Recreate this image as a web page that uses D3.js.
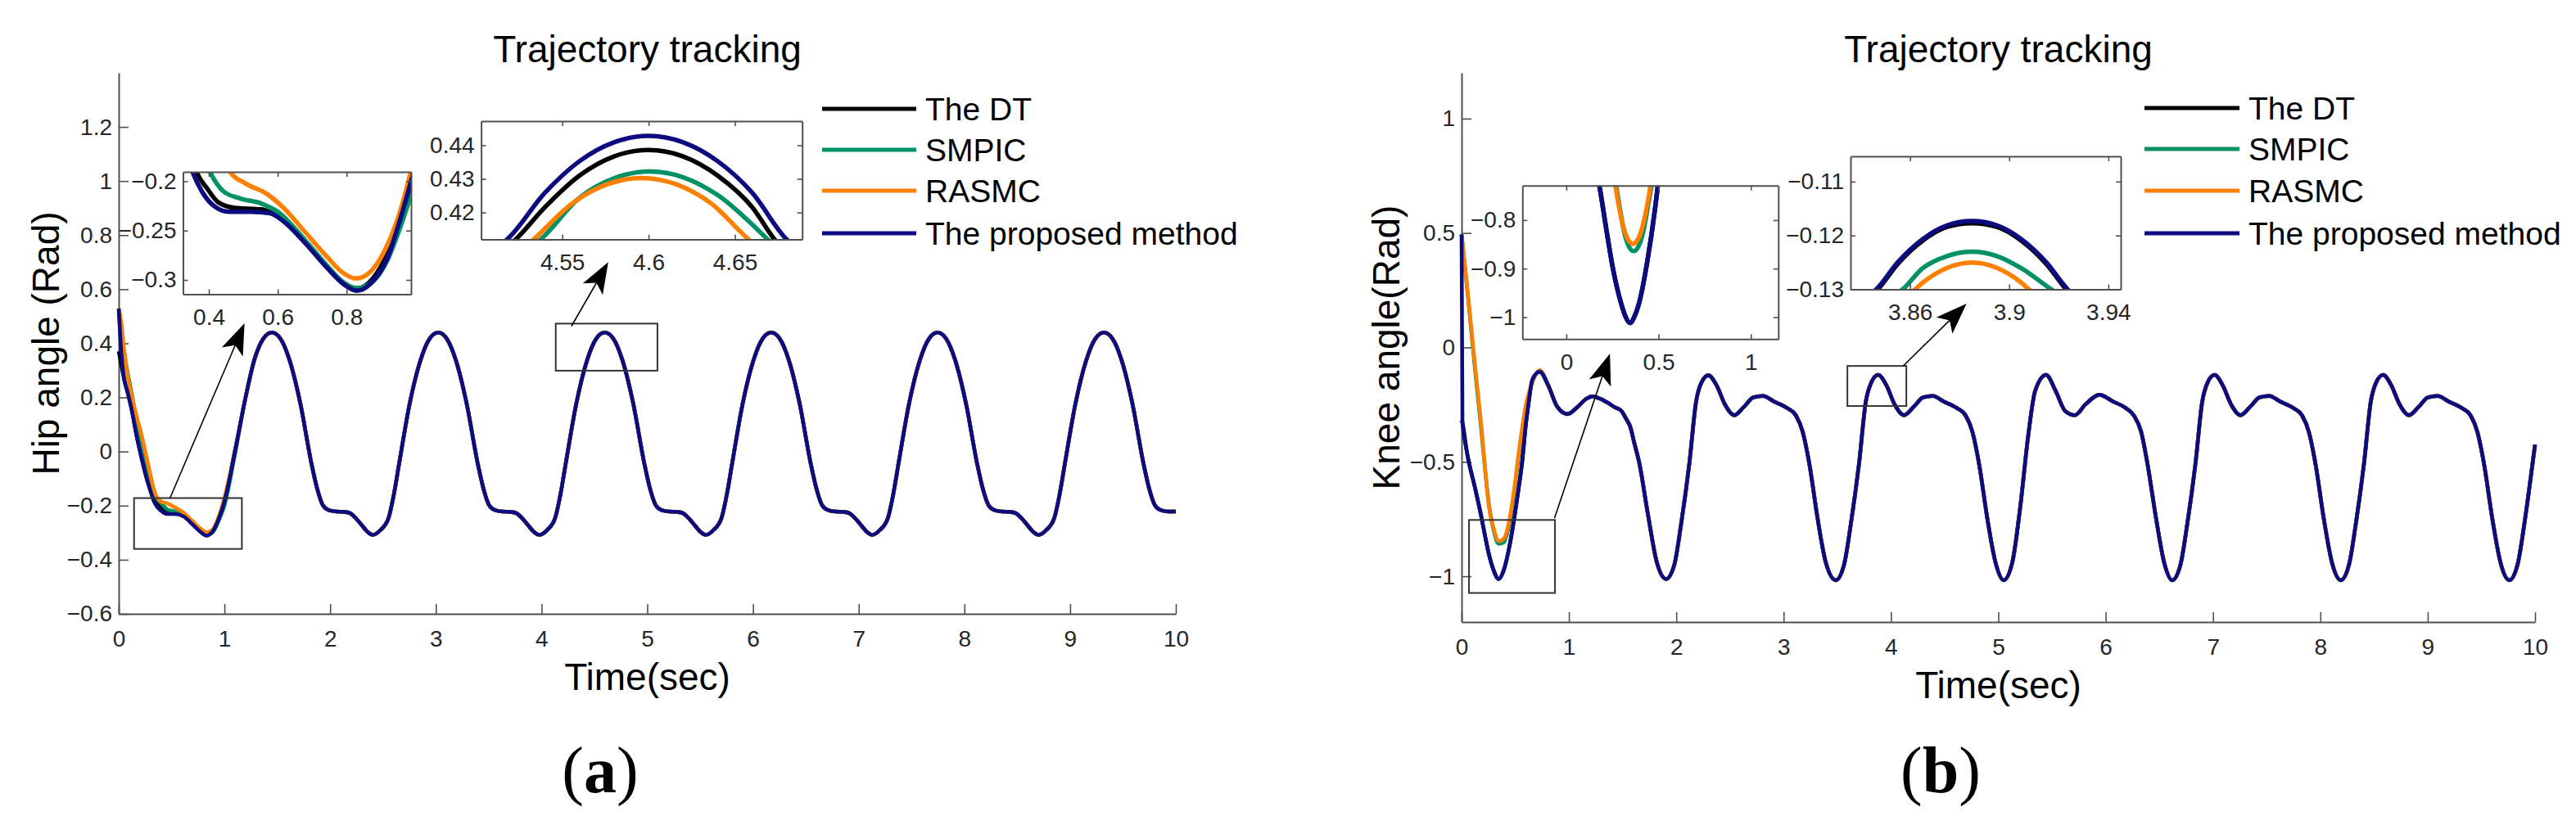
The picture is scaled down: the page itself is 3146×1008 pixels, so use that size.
<!DOCTYPE html>
<html>
<head>
<meta charset="utf-8">
<script src="https://cdn.jsdelivr.net/npm/d3@7"></script>
<style>
  body { margin: 0; background: #fff; }
</style>
</head>
<body>
<div id="chart"></div>
<script>
// ---- series ----
const seriesNames = ["The DT", "SMPIC", "RASMC", "The proposed method"];
const seriesColors = ["#000000", "#009166", "#ff8000", "#0c0c80"];

// ---- ticks ----
const timeTicks = [0, 1, 2, 3, 4, 5, 6, 7, 8, 9, 10];
const hipYTicks = [-0.6, -0.4, -0.2, 0, 0.2, 0.4, 0.6, 0.8, 1, 1.2];
const kneeYTicks = [-1, -0.5, 0, 0.5, 1];
const hipZoomAXTicks = [0.4, 0.6, 0.8];
const hipZoomAYTicks = [-0.3, -0.25, -0.2];
const hipZoomBXTicks = [4.55, 4.6, 4.65];
const hipZoomBYTicks = [0.42, 0.43, 0.44];
const kneeZoomAXTicks = [0, 0.5, 1];
const kneeZoomAYTicks = [-1, -0.9, -0.8];
const kneeZoomBXTicks = [3.86, 3.9, 3.94];
const kneeZoomBYTicks = [-0.13, -0.12, -0.11];

// ---- hip angle: start transient per series, [t, rad] ----
const hipStartDT = [[0,0.37],[0.02,0.33],[0.05,0.27],[0.08,0.225],[0.12,0.16],[0.17,0.057],[0.22,-0.03],[0.28,-0.12],[0.34,-0.175],[0.40,-0.209],[0.46,-0.226],[0.53,-0.228],[0.61,-0.237],[0.70,-0.268],[0.77,-0.294],[0.83,-0.309],[0.89,-0.292],[0.95,-0.24],[1.0,-0.178],[1.1,0.005]];
const hipStartSMPIC = [[0,0.51],[0.02,0.45],[0.05,0.37],[0.08,0.30],[0.12,0.22],[0.17,0.11],[0.22,0.01],[0.28,-0.09],[0.34,-0.16],[0.40,-0.19],[0.46,-0.214],[0.53,-0.221],[0.61,-0.233],[0.70,-0.266],[0.77,-0.295],[0.83,-0.308],[0.89,-0.298],[0.95,-0.252],[1.0,-0.2],[1.1,-0.01]];
const hipStartRASMC = [[0,0.53],[0.02,0.49],[0.05,0.38],[0.08,0.29],[0.12,0.21],[0.17,0.13],[0.22,0.055],[0.28,-0.05],[0.34,-0.15],[0.40,-0.185],[0.46,-0.192],[0.53,-0.206],[0.61,-0.225],[0.70,-0.258],[0.77,-0.284],[0.83,-0.298],[0.89,-0.287],[0.95,-0.236],[1.0,-0.17],[1.1,0.0]];
const hipStartProp = [[0,0.529],[0.02,0.39],[0.05,0.27],[0.08,0.225],[0.12,0.16],[0.17,0.057],[0.22,-0.03],[0.28,-0.12],[0.34,-0.19],[0.40,-0.219],[0.46,-0.231],[0.53,-0.231],[0.61,-0.239],[0.70,-0.27],[0.77,-0.296],[0.83,-0.311],[0.89,-0.295],[0.95,-0.245],[1.0,-0.185],[1.1,0.0]];
// after t = 1.2 all four curves lie on top of each other at this scale
const hipSteady = [[1.2,0.2],[1.282,0.338],[1.369,0.418],[1.449,0.44],[1.529,0.418],[1.616,0.338],[1.719,0.176],[1.824,-0.046],[1.879,-0.14],[1.929,-0.197],[1.989,-0.217],[2.059,-0.222],[2.129,-0.223],[2.184,-0.227],[2.239,-0.245],[2.289,-0.267],[2.349,-0.295],[2.402,-0.308],
  [2.477,-0.29],[2.552,-0.246],[2.602,-0.16],[2.652,-0.046],[2.752,0.176],[2.855,0.338],[2.942,0.418],[3.022,0.44],[3.102,0.418],[3.189,0.338],[3.292,0.176],[3.397,-0.046],[3.452,-0.14],[3.502,-0.197],[3.562,-0.217],[3.632,-0.222],[3.702,-0.223],[3.757,-0.227],[3.812,-0.245],[3.862,-0.267],[3.922,-0.295],[3.977,-0.308],
  [4.053,-0.29],[4.128,-0.246],[4.178,-0.16],[4.228,-0.046],[4.328,0.176],[4.431,0.338],[4.518,0.418],[4.598,0.44],[4.678,0.418],[4.765,0.338],[4.868,0.176],[4.973,-0.046],[5.028,-0.14],[5.078,-0.197],[5.138,-0.217],[5.208,-0.222],[5.278,-0.223],[5.333,-0.227],[5.388,-0.245],[5.438,-0.267],[5.498,-0.295],[5.553,-0.308],
  [5.627,-0.29],[5.702,-0.246],[5.752,-0.16],[5.802,-0.046],[5.902,0.176],[6.005,0.338],[6.092,0.418],[6.172,0.44],[6.252,0.418],[6.339,0.338],[6.442,0.176],[6.547,-0.046],[6.602,-0.14],[6.652,-0.197],[6.712,-0.217],[6.782,-0.222],[6.852,-0.223],[6.907,-0.227],[6.962,-0.245],[7.012,-0.267],[7.072,-0.295],[7.127,-0.308],
  [7.201,-0.29],[7.276,-0.246],[7.326,-0.16],[7.376,-0.046],[7.476,0.176],[7.579,0.338],[7.666,0.418],[7.746,0.44],[7.826,0.418],[7.913,0.338],[8.016,0.176],[8.121,-0.046],[8.176,-0.14],[8.226,-0.197],[8.286,-0.217],[8.356,-0.222],[8.426,-0.223],[8.481,-0.227],[8.536,-0.245],[8.586,-0.267],[8.646,-0.295],[8.701,-0.308],
  [8.775,-0.29],[8.85,-0.246],[8.9,-0.16],[8.95,-0.046],[9.05,0.176],[9.153,0.338],[9.24,0.418],[9.32,0.44],[9.4,0.418],[9.487,0.338],[9.59,0.176],[9.695,-0.046],[9.75,-0.14],[9.8,-0.197],[9.86,-0.217],[9.93,-0.222],[10,-0.222]];

// ---- knee angle ----
const kneeStartDT = [[0,-0.32],[0.008,-0.33],[0.047,-0.45],[0.128,-0.62],[0.179,-0.729],[0.218,-0.822],[0.25,-0.895],[0.298,-0.973],[0.345,-1.012],[0.393,-0.973],[0.44,-0.883],[0.496,-0.729],[0.53,-0.62],[0.562,-0.51],[0.6,-0.33],[0.626,-0.236],[0.66,-0.14],[0.728,-0.106]];
const kneeStartSMPIC = [[0,0.494],[0.008,0.455],[0.047,0.28],[0.128,-0.11],[0.179,-0.34],[0.218,-0.53],[0.25,-0.67],[0.298,-0.798],[0.345,-0.858],[0.393,-0.852],[0.44,-0.781],[0.496,-0.61],[0.53,-0.48],[0.562,-0.37],[0.6,-0.255],[0.626,-0.205],[0.66,-0.152],[0.728,-0.1]];
const kneeStartRASMC = [[0,0.494],[0.008,0.46],[0.047,0.29],[0.128,-0.093],[0.179,-0.32],[0.218,-0.52],[0.25,-0.68],[0.298,-0.79],[0.345,-0.846],[0.393,-0.836],[0.44,-0.766],[0.496,-0.6],[0.53,-0.47],[0.562,-0.36],[0.6,-0.25],[0.626,-0.2],[0.66,-0.15],[0.728,-0.1]];
const kneeStartProp = [[0,0.494],[0.008,-0.32],[0.047,-0.45],[0.128,-0.62],[0.179,-0.729],[0.218,-0.822],[0.25,-0.895],[0.298,-0.973],[0.345,-1.012],[0.393,-0.973],[0.44,-0.883],[0.496,-0.729],[0.53,-0.62],[0.562,-0.51],[0.6,-0.33],[0.626,-0.236],[0.66,-0.14],[0.728,-0.106]];
const kneeSteady = [[0.81,-0.169],[0.891,-0.259],[0.987,-0.291],[1.082,-0.259],[1.16,-0.225],[1.218,-0.214],[1.3,-0.226],[1.354,-0.24],[1.43,-0.262],[1.49,-0.278],[1.53,-0.31],[1.572,-0.348],[1.61,-0.42],[1.654,-0.502],[1.736,-0.73],[1.817,-0.936],[1.905,-1.012],
  [1.981,-0.951],[2.045,-0.772],[2.121,-0.51],[2.185,-0.236],[2.235,-0.153],[2.299,-0.122],[2.375,-0.165],[2.452,-0.248],[2.541,-0.296],[2.63,-0.26],[2.719,-0.218],[2.808,-0.212],[2.909,-0.236],[3.037,-0.266],[3.113,-0.296],[3.177,-0.368],[3.24,-0.51],[3.317,-0.749],[3.393,-0.94],[3.486,-1.017],
  [3.562,-0.951],[3.626,-0.772],[3.702,-0.51],[3.766,-0.236],[3.817,-0.153],[3.88,-0.12],[3.957,-0.165],[4.033,-0.248],[4.122,-0.296],[4.211,-0.26],[4.3,-0.218],[4.389,-0.212],[4.49,-0.236],[4.618,-0.266],[4.694,-0.296],[4.758,-0.368],[4.821,-0.51],[4.898,-0.749],[4.974,-0.94],[5.05,-1.017],
  [5.13,-0.94],[5.203,-0.702],[5.28,-0.38],[5.343,-0.19],[5.445,-0.12],[5.534,-0.19],[5.623,-0.278],[5.712,-0.296],[5.814,-0.248],[5.941,-0.207],[6.068,-0.236],[6.19,-0.266],[6.26,-0.296],[6.33,-0.368],[6.39,-0.51],[6.47,-0.749],[6.545,-0.94],[6.62,-1.017],
  [6.696,-0.951],[6.76,-0.772],[6.836,-0.51],[6.9,-0.236],[6.95,-0.153],[7.014,-0.12],[7.09,-0.165],[7.167,-0.248],[7.256,-0.296],[7.345,-0.26],[7.434,-0.218],[7.523,-0.212],[7.624,-0.236],[7.752,-0.266],[7.828,-0.296],[7.892,-0.368],[7.955,-0.51],[8.032,-0.749],[8.108,-0.94],[8.19,-1.017],
  [8.266,-0.951],[8.33,-0.772],[8.406,-0.51],[8.47,-0.236],[8.52,-0.153],[8.584,-0.12],[8.66,-0.165],[8.737,-0.248],[8.826,-0.296],[8.915,-0.26],[9.004,-0.218],[9.093,-0.212],[9.194,-0.236],[9.322,-0.266],[9.398,-0.296],[9.462,-0.368],[9.525,-0.51],[9.602,-0.749],[9.678,-0.94],[9.76,-1.017],
  [9.836,-0.951],[9.9,-0.772],[9.976,-0.51],[10,-0.425]];

// ---- zoomed windows ----
const hipZoomADT = [[0.35,-0.175],[0.365,-0.191],[0.396,-0.2077],[0.428,-0.2215],[0.475,-0.227],[0.554,-0.2285],[0.596,-0.235],[0.68,-0.261],[0.743,-0.286],[0.79,-0.3025],[0.83,-0.309],[0.875,-0.299],[0.917,-0.274],[0.956,-0.232],[0.995,-0.185]];
const hipZoomASMPIC = [[0.39,-0.18],[0.404,-0.191],[0.443,-0.2104],[0.49,-0.2173],[0.554,-0.2228],[0.601,-0.2311],[0.68,-0.26],[0.743,-0.2855],[0.79,-0.3027],[0.83,-0.3083],[0.877,-0.3013],[0.917,-0.281],[0.956,-0.2463],[0.995,-0.205]];
const hipZoomARASMC = [[0.45,-0.18],[0.463,-0.191],[0.5065,-0.2022],[0.57,-0.2132],[0.617,-0.227],[0.68,-0.2517],[0.743,-0.2765],[0.79,-0.293],[0.827,-0.2986],[0.869,-0.2917],[0.917,-0.2655],[0.956,-0.2297],[0.995,-0.178]];
const hipZoomAProp = [[0.34,-0.178],[0.353,-0.191],[0.38,-0.2104],[0.412,-0.2242],[0.459,-0.231],[0.522,-0.231],[0.5775,-0.2325],[0.617,-0.2407],[0.68,-0.2628],[0.743,-0.2876],[0.79,-0.304],[0.83,-0.311],[0.869,-0.304],[0.917,-0.279],[0.956,-0.238],[0.995,-0.19]];

const hipZoomBDT = [[4.515,0.4085],[4.523,0.412],[4.54,0.4216],[4.56,0.431],[4.58,0.4367],[4.6,0.4386],[4.62,0.4367],[4.64,0.431],[4.66,0.4216],[4.673,0.412],[4.68,0.408]];
const hipZoomBSMPIC = [[4.53,0.409],[4.5375,0.412],[4.56,0.4244],[4.58,0.4302],[4.601,0.4322],[4.62,0.4305],[4.64,0.4252],[4.669,0.412],[4.675,0.409]];
const hipZoomBRASMC = [[4.527,0.409],[4.5335,0.412],[4.556,0.4228],[4.576,0.4284],[4.596,0.4303],[4.616,0.4284],[4.636,0.4228],[4.658,0.412],[4.665,0.409]];
const hipZoomBProp = [[4.51,0.409],[4.518,0.412],[4.54,0.4259],[4.56,0.4353],[4.58,0.4409],[4.6,0.4428],[4.62,0.4409],[4.64,0.4353],[4.66,0.4259],[4.68,0.412],[4.69,0.408]];

const kneeZoomADT = [[0.16,-0.69],[0.179,-0.729],[0.218,-0.822],[0.25,-0.8946],[0.298,-0.973],[0.32,-0.998],[0.345,-1.012],[0.37,-0.998],[0.393,-0.973],[0.44,-0.8826],[0.496,-0.729],[0.51,-0.68]];
const kneeZoomASMPIC = [[0.262,-0.71],[0.27,-0.729],[0.29,-0.776],[0.315,-0.827],[0.34,-0.855],[0.365,-0.864],[0.39,-0.855],[0.415,-0.827],[0.44,-0.776],[0.461,-0.729],[0.468,-0.71]];
const kneeZoomARASMC = [[0.258,-0.71],[0.266,-0.729],[0.286,-0.774],[0.311,-0.816],[0.336,-0.841],[0.361,-0.849],[0.386,-0.841],[0.411,-0.816],[0.436,-0.774],[0.456,-0.729],[0.463,-0.71]];
const kneeZoomAProp = [[0.16,-0.69],[0.179,-0.729],[0.218,-0.822],[0.25,-0.8946],[0.298,-0.973],[0.32,-0.998],[0.345,-1.012],[0.37,-0.998],[0.393,-0.973],[0.44,-0.8826],[0.496,-0.729],[0.51,-0.68]];

const kneeZoomBDT = [[3.84,-0.1325],[3.847,-0.13],[3.855,-0.1253],[3.865,-0.121],[3.875,-0.1184],[3.885,-0.1177],[3.895,-0.1184],[3.905,-0.121],[3.915,-0.1253],[3.923,-0.13],[3.93,-0.1335]];
const kneeZoomBSMPIC = [[3.852,-0.1315],[3.857,-0.13],[3.865,-0.1261],[3.875,-0.1238],[3.885,-0.123],[3.895,-0.1238],[3.905,-0.1261],[3.917,-0.13],[3.922,-0.1315]];
const kneeZoomBRASMC = [[3.858,-0.1315],[3.862,-0.13],[3.865,-0.1288],[3.875,-0.126],[3.885,-0.125],[3.895,-0.126],[3.905,-0.1288],[3.908,-0.13],[3.912,-0.1315]];
const kneeZoomBProp = [[3.84,-0.1322],[3.847,-0.1297],[3.855,-0.125],[3.865,-0.1207],[3.875,-0.1181],[3.885,-0.1173],[3.895,-0.1181],[3.905,-0.1207],[3.915,-0.125],[3.923,-0.1297],[3.93,-0.1332]];

// ---- drawing ----
const W = 3146, H = 1008;
const fontSans = '"Liberation Sans", Arial, Helvetica, sans-serif';
const axisColor = "#4f4f4f";
const fmt = v => String(v).replace("-", "\u2212");

const svg = d3.select("#chart").append("svg")
  .attr("width", W)
  .attr("height", H)
  .style("background", "#fff");

const defs = svg.append("defs");

function styleAxis(g){
  g.attr("font-family", fontSans).attr("font-size", 28);
  g.select(".domain").attr("stroke", axisColor).attr("stroke-width", 2);
  g.selectAll(".tick line").attr("stroke", axisColor).attr("stroke-width", 1.6);
  g.selectAll(".tick text").attr("fill", "#262626");
}

function drawArrow(g, x1, y1, x2, y2){
  const len = Math.hypot(x2 - x1, y2 - y1);
  const ux = (x2 - x1) / len, uy = (y2 - y1) / len;
  const nx = -uy, ny = ux;
  const hl = 38, hw = 14, notch = 29;
  const bx = x2 - ux * hl, by = y2 - uy * hl;
  g.append("line")
    .attr("x1", x1).attr("y1", y1)
    .attr("x2", x2 - ux * notch).attr("y2", y2 - uy * notch)
    .attr("stroke", "#000").attr("stroke-width", 1.6);
  g.append("path")
    .attr("d", `M${x2},${y2}L${bx + nx*hw},${by + ny*hw}L${x2 - ux*notch},${y2 - uy*notch}L${bx - nx*hw},${by - ny*hw}Z`)
    .attr("fill", "#000");
}

let clipCount = 0;
function drawInset(g, box, xDom, yDom, xTicks, yTicks, series){
  const x = d3.scaleLinear().domain(xDom).range([box.x0, box.x1]);
  const y = d3.scaleLinear().domain(yDom).range([box.y1, box.y0]);
  const id = "clip" + (clipCount++);
  defs.append("clipPath").attr("id", id)
    .append("rect")
    .attr("x", box.x0).attr("y", box.y0)
    .attr("width", box.x1 - box.x0).attr("height", box.y1 - box.y0);

  g.append("rect")
    .attr("x", box.x0).attr("y", box.y0)
    .attr("width", box.x1 - box.x0).attr("height", box.y1 - box.y0)
    .attr("fill", "#fff");

  const line = d3.line().x(d => x(d[0])).y(d => y(d[1])).curve(d3.curveMonotoneX);
  const lines = g.append("g").attr("clip-path", `url(#${id})`);
  series.forEach((s, i) => {
    lines.append("path")
      .attr("d", line(s))
      .attr("fill", "none")
      .attr("stroke", seriesColors[i])
      .attr("stroke-width", 5.5)
      .attr("stroke-linejoin", "round");
  });

  g.append("g").attr("transform", `translate(0,${box.y1})`)
    .call(d3.axisBottom(x).tickValues(xTicks).tickSize(-6).tickSizeOuter(0).tickPadding(18).tickFormat(fmt))
    .call(styleAxis);
  g.append("g").attr("transform", `translate(0,${box.y0})`)
    .call(d3.axisTop(x).tickValues(xTicks).tickSize(-6).tickSizeOuter(0).tickFormat(""))
    .call(styleAxis);
  g.append("g").attr("transform", `translate(${box.x0},0)`)
    .call(d3.axisLeft(y).tickValues(yTicks).tickSize(-6).tickSizeOuter(0).tickPadding(8).tickFormat(fmt))
    .call(styleAxis);
  g.append("g").attr("transform", `translate(${box.x1},0)`)
    .call(d3.axisRight(y).tickValues(yTicks).tickSize(-6).tickSizeOuter(0).tickFormat(""))
    .call(styleAxis);
}

function drawPanel(p){
  const g = svg.append("g");
  const x = d3.scaleLinear().domain([0, 10]).range([p.left, p.right]);
  const y = d3.scaleLinear().domain(p.yDomain).range([p.bottom, p.top]);

  g.append("g").attr("transform", `translate(0,${p.bottom})`)
    .call(d3.axisBottom(x).tickValues(timeTicks).tickSize(-12).tickSizeOuter(0).tickPadding(20).tickFormat(fmt))
    .call(styleAxis);
  g.append("g").attr("transform", `translate(${p.left},0)`)
    .call(d3.axisLeft(y).tickValues(p.yTicks).tickSize(-12).tickSizeOuter(0).tickPadding(8).tickFormat(fmt))
    .call(styleAxis);

  const line = d3.line().x(d => x(d[0])).y(d => y(d[1])).curve(d3.curveMonotoneX);
  p.series.forEach((s, i) => {
    g.append("path")
      .attr("d", line(s))
      .attr("fill", "none")
      .attr("stroke", seriesColors[i])
      .attr("stroke-width", 4.6)
      .attr("stroke-linejoin", "round");
  });

  // zoom rectangles on the main curve
  p.rects.forEach(r => {
    g.append("rect")
      .attr("x", x(r[0])).attr("y", y(r[3]))
      .attr("width", x(r[1]) - x(r[0])).attr("height", y(r[2]) - y(r[3]))
      .attr("fill", "none").attr("stroke", "#333").attr("stroke-width", 2);
  });
  p.arrows.forEach(a => drawArrow(g, x(a[0]), y(a[1]), x(a[2]), y(a[3])));

  p.insets.forEach(ins => drawInset(g, ins.box, ins.xDom, ins.yDom, ins.xTicks, ins.yTicks, ins.series));

  // legend
  seriesNames.forEach((name, i) => {
    const ly = p.legend.y[i];
    g.append("line")
      .attr("x1", p.legend.x0).attr("x2", p.legend.x1)
      .attr("y1", ly).attr("y2", ly)
      .attr("stroke", seriesColors[i]).attr("stroke-width", 5);
    g.append("text")
      .attr("x", p.legend.tx).attr("y", ly).attr("dy", "0.36em")
      .attr("font-family", fontSans).attr("font-size", 39)
      .text(name);
  });

  const cx = (p.left + p.right) / 2;
  g.append("text")
    .attr("x", cx).attr("y", 76)
    .attr("text-anchor", "middle")
    .attr("font-family", fontSans).attr("font-size", 46)
    .text("Trajectory tracking");
  g.append("text")
    .attr("x", cx).attr("y", p.bottom + 93)
    .attr("text-anchor", "middle")
    .attr("font-family", fontSans).attr("font-size", 46)
    .text("Time(sec)");
  g.append("text")
    .attr("transform", `translate(${p.ylabelX},${(p.top + p.bottom) / 2})rotate(-90)`)
    .attr("text-anchor", "middle")
    .attr("font-family", fontSans).attr("font-size", 46)
    .text(p.ylabel);

  const lab = g.append("text")
    .attr("x", p.tagX).attr("y", 968)
    .attr("text-anchor", "middle")
    .attr("font-family", '"Liberation Serif", "Times New Roman", serif')
    .attr("font-size", 80);
  lab.append("tspan").text("(");
  lab.append("tspan").attr("font-weight", "bold").text(p.tag);
  lab.append("tspan").text(")");
}

drawPanel({
  left: 145, right: 1436, top: 89, bottom: 750,
  yDomain: [-0.6, 1.4], yTicks: hipYTicks,
  ylabel: "Hip angle (Rad)", ylabelX: 72, tag: "a", tagX: 733,
  series: [hipStartDT.concat(hipSteady), hipStartSMPIC.concat(hipSteady), hipStartRASMC.concat(hipSteady), hipStartProp.concat(hipSteady)],
  rects: [[0.145, 1.165, -0.36, -0.172], [4.134, 5.096, 0.299, 0.473]],
  arrows: [[0.483, -0.174, 1.19, 0.474], [4.283, 0.4635, 4.631, 0.70]],
  insets: [
    { box: {x0: 223.5, x1: 502, y0: 210, y1: 359.5}, xDom: [0.325, 0.987], yDom: [-0.3145, -0.1905],
      xTicks: hipZoomAXTicks, yTicks: hipZoomAYTicks, series: [hipZoomADT, hipZoomASMPIC, hipZoomARASMC, hipZoomAProp] },
    { box: {x0: 587.6, x1: 979.7, y0: 148, y1: 292.5}, xDom: [4.503, 4.689], yDom: [0.412, 0.4472],
      xTicks: hipZoomBXTicks, yTicks: hipZoomBYTicks, series: [hipZoomBDT, hipZoomBSMPIC, hipZoomBRASMC, hipZoomBProp] }
  ],
  legend: { x0: 1004, x1: 1119, tx: 1130, y: [133, 183, 233, 285] }
});

drawPanel({
  left: 1785, right: 3096, top: 89, bottom: 760,
  yDomain: [-1.2, 1.2], yTicks: kneeYTicks,
  ylabel: "Knee angle(Rad)", ylabelX: 1709, tag: "b", tagX: 2370,
  series: [kneeStartDT.concat(kneeSteady), kneeStartSMPIC.concat(kneeSteady), kneeStartRASMC.concat(kneeSteady), kneeStartProp.concat(kneeSteady)],
  rects: [[0.069, 0.87, -1.073, -0.754], [3.594, 4.143, -0.256, -0.081]],
  arrows: [[0.865, -0.747, 1.382, -0.027], [4.115, -0.0804, 4.704, 0.191]],
  insets: [
    { box: {x0: 1859.3, x1: 2171.8, y0: 226.8, y1: 414.3}, xDom: [-0.238, 1.149], yDom: [-1.0452, -0.729],
      xTicks: kneeZoomAXTicks, yTicks: kneeZoomAYTicks, series: [kneeZoomADT, kneeZoomASMPIC, kneeZoomARASMC, kneeZoomAProp] },
    { box: {x0: 2260, x1: 2590, y0: 191, y1: 353.6}, xDom: [3.836, 3.945], yDom: [-0.13, -0.1053],
      xTicks: kneeZoomBXTicks, yTicks: kneeZoomBYTicks, series: [kneeZoomBDT, kneeZoomBSMPIC, kneeZoomBRASMC, kneeZoomBProp] }
  ],
  legend: { x0: 2619, x1: 2735, tx: 2746, y: [132, 182, 233, 285] }
});
</script>
</body>
</html>
